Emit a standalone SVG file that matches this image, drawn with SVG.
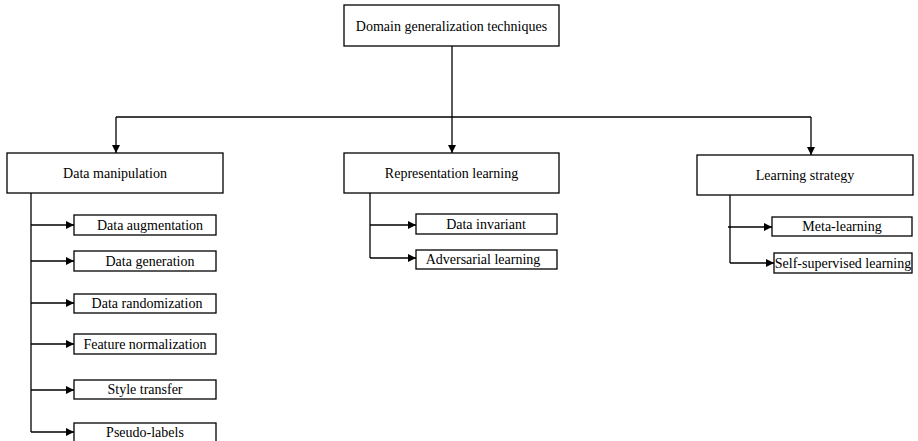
<svg xmlns="http://www.w3.org/2000/svg" width="918" height="441" viewBox="0 0 918 441">
<style>
.box{fill:#fff;stroke:#000;stroke-width:1.3}
.t{font-family:"Liberation Serif","Times New Roman",serif;font-size:14px;fill:#000;text-anchor:middle;dominant-baseline:central}
.c{fill:none;stroke:#000;stroke-width:1.3}
</style>
<defs>
<marker id="ah" viewBox="0 0 10 10" refX="10" refY="5" markerWidth="8" markerHeight="8" markerUnits="userSpaceOnUse" orient="auto">
<path d="M0,0 L10,5 L0,10 z" fill="#000"/>
</marker>
</defs>
<g id="connectors">
<path class="c" d="M452,46 V153" marker-end="url(#ah)"/>
<path class="c" d="M116,117 H811"/>
<path class="c" d="M116,117 V153" marker-end="url(#ah)"/>
<path class="c" d="M811,117 V155" marker-end="url(#ah)"/>
<path class="c" d="M31,193 V432"/>
<path class="c" d="M31,225 H74" marker-end="url(#ah)"/>
<path class="c" d="M31,261 H74" marker-end="url(#ah)"/>
<path class="c" d="M31,303 H74" marker-end="url(#ah)"/>
<path class="c" d="M31,344 H74" marker-end="url(#ah)"/>
<path class="c" d="M31,390 H74" marker-end="url(#ah)"/>
<path class="c" d="M31,432 H74" marker-end="url(#ah)"/>
<path class="c" d="M370,193 V258"/>
<path class="c" d="M370,225 H416" marker-end="url(#ah)"/>
<path class="c" d="M370,258 H416" marker-end="url(#ah)"/>
<path class="c" d="M730,195 V263"/>
<path class="c" d="M728,227 H772" marker-end="url(#ah)"/>
<path class="c" d="M730,263 H774" marker-end="url(#ah)"/>
</g>
<g id="root"><rect class="box" x="344" y="5" width="215" height="41"/><text class="t" x="451.5" y="26">Domain generalization techniques</text></g>
<g id="data-manipulation"><rect class="box" x="7" y="153" width="216" height="40"/><text class="t" x="115" y="173">Data manipulation</text></g>
<g id="representation-learning"><rect class="box" x="344" y="153" width="215" height="40"/><text class="t" x="451.5" y="173">Representation learning</text></g>
<g id="learning-strategy"><rect class="box" x="697" y="155" width="216" height="40"/><text class="t" x="805" y="175">Learning strategy</text></g>
<g id="data-augmentation"><rect class="box" x="74" y="215" width="142" height="20"/><text class="t" x="150" y="225">Data augmentation</text></g>
<g id="data-generation"><rect class="box" x="74" y="251" width="142" height="20"/><text class="t" x="150" y="261">Data generation</text></g>
<g id="data-randomization"><rect class="box" x="74" y="294" width="142" height="19"/><text class="t" x="147" y="303.5">Data randomization</text></g>
<g id="feature-normalization"><rect class="box" x="74" y="334" width="142" height="20"/><text class="t" x="145" y="344">Feature normalization</text></g>
<g id="style-transfer"><rect class="box" x="74" y="380" width="142" height="19"/><text class="t" x="145" y="389.5">Style transfer</text></g>
<g id="pseudo-labels"><rect class="box" x="74" y="423" width="142" height="24"/><text class="t" x="145" y="432">Pseudo-labels</text></g>
<g id="data-invariant"><rect class="box" x="416" y="214" width="141" height="20"/><text class="t" x="486" y="224">Data invariant</text></g>
<g id="adversarial-learning"><rect class="box" x="416" y="250" width="141" height="19"/><text class="t" x="483" y="259.5">Adversarial learning</text></g>
<g id="meta-learning"><rect class="box" x="772" y="217" width="140" height="19"/><text class="t" x="842" y="226.5">Meta-learning</text></g>
<g id="self-supervised-learning"><rect class="box" x="774" y="253" width="138" height="20"/><text class="t" x="843" y="263">Self-supervised learning</text></g>
</svg>
